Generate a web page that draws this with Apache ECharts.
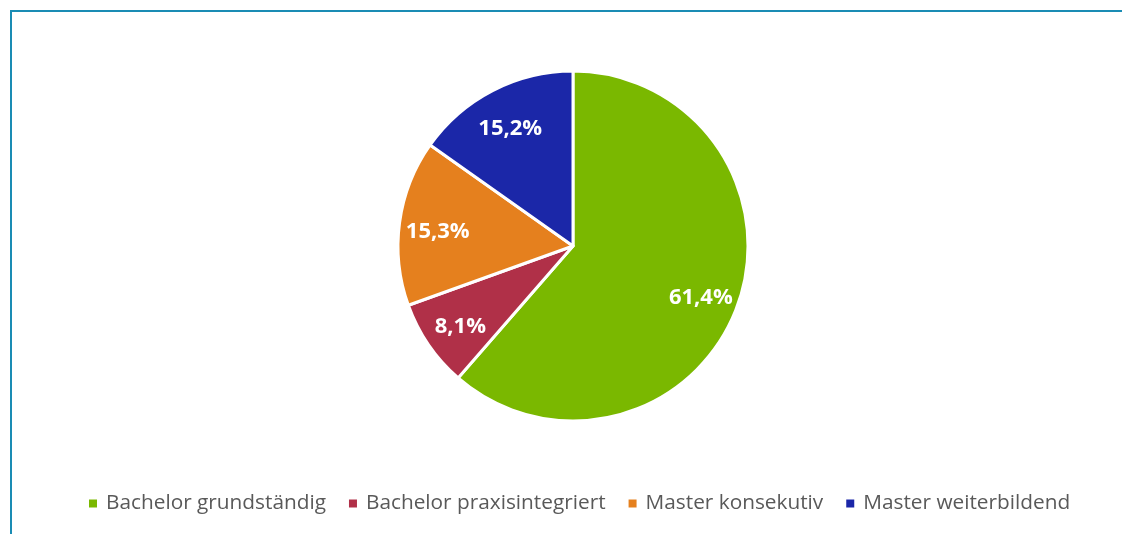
<!DOCTYPE html>
<html>
<head>
<meta charset="utf-8">
<script src="https://cdn.jsdelivr.net/npm/echarts@6/dist/echarts.min.js"></script>
<style>
	html, body { margin: 0; padding: 0; background: #fff; }
	#frame {
		position: absolute; left: 10px; top: 10px; width: 1112px; height: 524px;
		border-top: 2px solid #1a8cb4; border-left: 2px solid #1a8cb4;
		box-sizing: border-box;
	}
	#chart { position: absolute; left: 0; top: 0; width: 1122px; height: 534px; }
</style>
</head>
<body>
<div id="frame"></div>
<div id="chart"></div>
<script>
// Kategorien und Anteile (%)
const categories = ['Bachelor grundständig', 'Bachelor praxisintegriert', 'Master konsekutiv', 'Master weiterbildend'];
const shares = [61.4, 8.1, 15.3, 15.2];
const colors = ['#7ab800', '#b03048', '#e5801e', '#1b27a8'];

const chart = echarts.init(document.getElementById('chart'));
const pieData = categories.map((name, i) => ({
	name: name,
	value: shares[i],
	itemStyle: { color: colors[i] },
}));

const options = {
	animation: false,
	legend: {
		bottom: 15,
		left: 82,
		itemWidth: 10,
		itemHeight: 10,
		itemGap: 21,
		icon: 'rect',
		textStyle: { color: '#595959', fontSize: 20.8, fontFamily: 'Open Sans', padding: [0, 0, 0, 3] },
		data: categories,
	},
	series: [
		{
			type: 'pie',
			center: [573, 246],
			radius: [0, 175],
			startAngle: 90,
			data: pieData,
			itemStyle: { borderColor: '#fff', borderWidth: 3 },
			label: { show: false },
			labelLine: { show: false },
		},
		// transparenter Ring nur für die Beschriftungen
		{
			type: 'pie',
			center: [573, 250],
			radius: [92, 175],
			startAngle: 90,
			silent: true,
			legendHoverLink: false,
			data: categories.map((name, i) => ({ name: name, value: shares[i] })),
			itemStyle: { color: 'rgba(0,0,0,0)', borderWidth: 0 },
			label: {
				show: true,
				position: 'inside',
				color: '#fff',
				fontSize: 22,
				fontWeight: 'bold',
				fontFamily: 'Open Sans',
				formatter: (p) => p.value.toFixed(1).replace('.', ',') + '%',
			},
			labelLine: { show: false },
		},
	],
};
chart.setOption(options);
</script>
</body>
</html>
